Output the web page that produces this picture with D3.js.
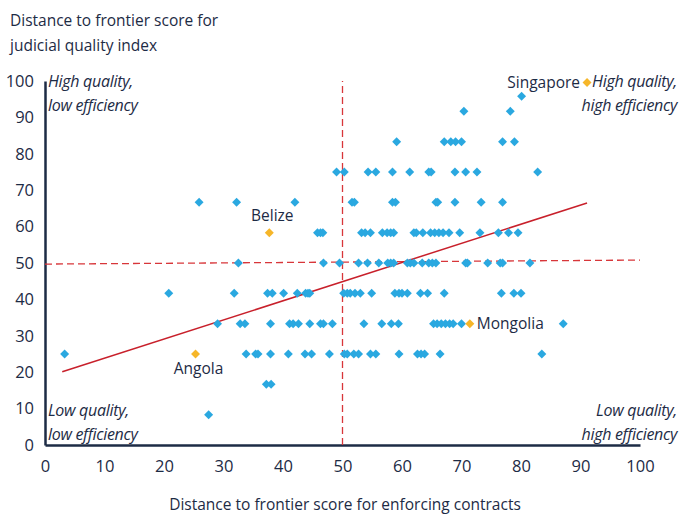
<!DOCTYPE html>
<html>
<head>
<meta charset="utf-8">
<script src="https://cdn.jsdelivr.net/npm/d3@7"></script>
<style>
  body { margin: 0; background: #fff; }
  svg text { font-family: "Open Sans", sans-serif; fill: #1d2b45; }
</style>
</head>
<body>
<div id="chart"></div>
<script>
// enforcing contracts score (x) vs judicial quality score (y)
var countries = [
  [80.1, 95.83],
  [70.4, 91.67], [78.2, 91.67],
  [59.1, 83.33], [67.1, 83.33], [68.2, 83.33], [69.0, 83.33], [70.0, 83.33], [76.9, 83.33], [78.9, 83.33],
  [49.0, 75], [50.3, 75], [54.3, 75], [55.6, 75], [58.4, 75], [61.3, 75], [64.5, 75], [64.9, 75],
  [68.9, 75], [70.7, 75], [72.6, 75], [82.8, 75],
  [25.9, 66.67], [32.2, 66.67], [42.0, 66.67], [51.6, 66.67], [52.0, 66.67], [58.4, 66.67], [58.9, 66.67],
  [65.7, 66.67], [66.0, 66.67], [68.9, 66.67], [73.3, 66.67], [76.9, 66.67],
  [45.8, 58.33], [46.3, 58.33], [46.7, 58.33], [53.2, 58.33], [53.8, 58.33], [54.7, 58.33], [56.7, 58.33],
  [57.5, 58.33], [58.1, 58.33], [58.6, 58.33], [62.0, 58.33], [62.4, 58.33], [63.5, 58.33], [64.8, 58.33],
  [65.5, 58.33], [66.2, 58.33], [66.9, 58.33], [67.9, 58.33], [69.7, 58.33], [73.1, 58.33], [76.2, 58.33],
  [77.9, 58.33], [79.5, 58.33],
  [32.5, 50], [46.8, 50], [49.5, 50], [52.7, 50], [54.2, 50], [56.1, 50], [57.6, 50], [58.1, 50], [58.6, 50],
  [60.9, 50], [61.4, 50], [62.0, 50], [63.4, 50], [64.5, 50], [65.1, 50], [65.7, 50], [70.7, 50], [71.0, 50],
  [74.4, 50], [76.5, 50], [76.9, 50], [81.5, 50],
  [20.8, 41.67], [31.8, 41.67], [37.4, 41.67], [38.2, 41.67], [40.1, 41.67], [42.4, 41.67], [43.8, 41.67],
  [44.2, 41.67], [44.5, 41.67], [50.2, 41.67], [50.8, 41.67], [51.3, 41.67], [52.1, 41.67], [53.0, 41.67],
  [54.9, 41.67], [58.8, 41.67], [59.5, 41.67], [60.0, 41.67], [60.9, 41.67], [63.1, 41.67], [64.3, 41.67],
  [67.1, 41.67], [76.7, 41.67], [78.8, 41.67], [80.0, 41.67],
  [29.0, 33.33], [32.8, 33.33], [33.6, 33.33], [37.9, 33.33], [41.1, 33.33], [41.7, 33.33], [42.6, 33.33],
  [44.5, 33.33], [46.3, 33.33], [46.8, 33.33], [48.3, 33.33], [53.6, 33.33], [56.6, 33.33], [58.2, 33.33],
  [59.4, 33.33], [65.3, 33.33], [65.9, 33.33], [66.6, 33.33], [67.3, 33.33], [68.0, 33.33], [68.6, 33.33],
  [70.0, 33.33], [87.1, 33.33],
  [3.3, 25], [33.8, 25], [35.4, 25], [35.8, 25], [37.9, 25], [40.9, 25], [43.7, 25], [44.8, 25], [47.8, 25],
  [50.3, 25], [50.8, 25], [51.9, 25], [52.7, 25], [54.7, 25], [55.6, 25], [59.5, 25], [62.6, 25], [63.2, 25],
  [63.8, 25], [66.4, 25], [83.5, 25],
  [37.2, 16.67], [38.0, 16.67],
  [27.5, 8.33]
]

var highlighted = ["Singapore", "Belize", "Angola", "Mongolia"]
var highlightedX = [91.1, 37.7, 25.3, 71.4]
var highlightedY = [99.6, 58.33, 25, 33.33]

var xTicks = [0, 10, 20, 30, 40, 50, 60, 70, 80, 90, 100]
var yTicks = [0, 10, 20, 30, 40, 50, 60, 70, 80, 90, 100]

// trend line end points and the two dashed average lines
var trendX = [2.9, 91.1]
var trendY = [20.1, 66.5]
var avgLineX = [[50, 50], [0, 100]]
var avgLineY = [[0, 100], [49.7, 50.8]]

var svgWidth = 679
var svgHeight = 516

var svg = d3.select("#chart")
    .append("svg")
    .attr("width", svgWidth)
    .attr("height", svgHeight)

var xScale = d3.scaleLinear().domain([0, 100]).range([45, 640])
var yScale = d3.scaleLinear().domain([0, 100]).range([445, 81])

// axes
var xAxis = d3.axisBottom(xScale).tickValues(xTicks).tickSize(0).tickPadding(15)
var yAxis = d3.axisLeft(yScale).tickValues(yTicks).tickSize(0).tickPadding(11)

svg.append("g")
    .attr("transform", `translate(0, ${yScale(0)})`)
    .call(xAxis)
svg.append("g")
    .attr("transform", `translate(${xScale(0)}, 0)`)
    .call(yAxis)

svg.selectAll(".domain")
    .attr("stroke", "#1d2b45")
    .attr("stroke-width", 2.5)
svg.selectAll(".tick text")
    .attr("font-size", 16.5)
    .attr("font-family", "Open Sans, sans-serif")
    .attr("fill", "#1d2b45")

// dashed lines
avgLineX.forEach((xs, i) => {
    svg.append("line")
        .attr("x1", xScale(xs[0]))
        .attr("x2", xScale(xs[1]))
        .attr("y1", yScale(avgLineY[i][0]))
        .attr("y2", yScale(avgLineY[i][1]))
        .attr("stroke", "#d8363a")
        .attr("stroke-width", 1.3)
        .attr("stroke-dasharray", "7,4")
})

// trend line
svg.append("line")
    .attr("x1", xScale(trendX[0]))
    .attr("x2", xScale(trendX[1]))
    .attr("y1", yScale(trendY[0]))
    .attr("y2", yScale(trendY[1]))
    .attr("stroke", "#c8202b")
    .attr("stroke-width", 1.5)

var diamond = d3.symbol().type(d3.symbolSquare).size(40)

svg.append("g")
    .selectAll("path")
    .data(countries)
    .enter()
    .append("path")
    .attr("d", diamond)
    .attr("transform", d => `translate(${xScale(d[0])}, ${yScale(d[1])}) rotate(45)`)
    .attr("fill", "#2aa8e0")

var hl = highlighted.map((name, i) => ({ name: name, x: highlightedX[i], y: highlightedY[i] }))

svg.append("g")
    .selectAll("path")
    .data(hl)
    .enter()
    .append("path")
    .attr("d", diamond)
    .attr("transform", d => `translate(${xScale(d.x)}, ${yScale(d.y)}) rotate(45)`)
    .attr("fill", "#f6b629")

// country labels
var labelPos = {
    Singapore: { dx: -7, dy: 0, anchor: "end" },
    Belize: { dx: 3, dy: -17, anchor: "middle" },
    Angola: { dx: 3, dy: 15, anchor: "middle" },
    Mongolia: { dx: 7, dy: 0, anchor: "start" }
}
svg.append("g")
    .selectAll("text")
    .data(hl)
    .enter()
    .append("text")
    .attr("x", d => xScale(d.x) + labelPos[d.name].dx)
    .attr("y", d => yScale(d.y) + labelPos[d.name].dy)
    .attr("dy", "0.35em")
    .attr("text-anchor", d => labelPos[d.name].anchor)
    .attr("font-size", 15.5)
    .text(d => d.name)

// quadrant labels
var corners = [
    { lines: ["High quality,", "low efficiency"], x: 48, y: 81, anchor: "start" },
    { lines: ["High quality,", "high efficiency"], x: 677, y: 81, anchor: "end" },
    { lines: ["Low quality,", "low efficiency"], x: 48, y: 410, anchor: "start" },
    { lines: ["Low quality,", "high efficiency"], x: 677, y: 410, anchor: "end" }
]
corners.forEach(c => {
    c.lines.forEach((line, i) => {
        svg.append("text")
            .attr("x", c.x)
            .attr("y", c.y + i * 24)
            .attr("dy", "0.35em")
            .attr("text-anchor", c.anchor)
            .attr("font-size", 16)
            .attr("font-style", "italic")
            .attr("letter-spacing", "-0.3")
            .text(line)
    })
})

// axis titles
svg.append("text")
    .attr("x", 10)
    .attr("y", 26)
    .attr("font-size", 15.5)
    .text("Distance to frontier score for")
svg.append("text")
    .attr("x", 10)
    .attr("y", 51)
    .attr("font-size", 15.5)
    .text("judicial quality index")

svg.append("text")
    .attr("x", 345)
    .attr("y", 510)
    .attr("text-anchor", "middle")
    .attr("font-size", 15.5)
    .text("Distance to frontier score for enforcing contracts")
</script>
</body>
</html>
